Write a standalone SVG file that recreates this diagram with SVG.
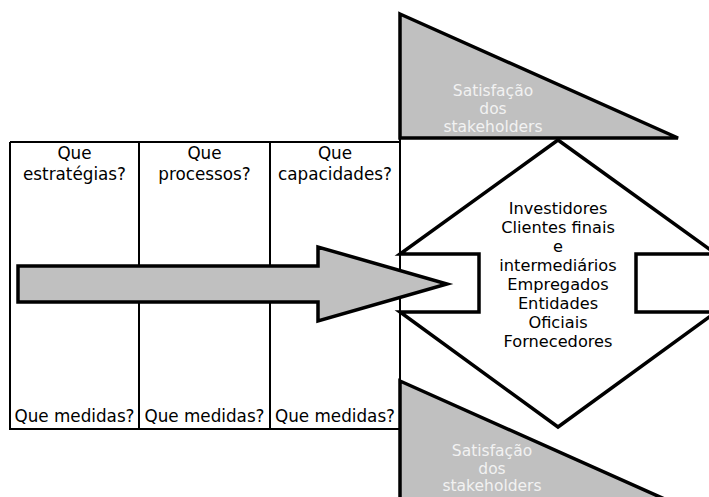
<svg xmlns="http://www.w3.org/2000/svg" width="709" height="497" viewBox="0 0 709 497">
<style>
.t{font-family:"DejaVu Sans","Liberation Sans",sans-serif;font-size:16.8px;fill:#000;text-anchor:middle}
.c{font-family:"DejaVu Sans","Liberation Sans",sans-serif;font-size:16.2px;fill:#000;text-anchor:middle}
.w{font-family:"DejaVu Sans","Liberation Sans",sans-serif;font-size:15.5px;fill:#f2f2f2;text-anchor:middle}
.grid{fill:none;stroke:#000;stroke-width:2}
.tri{fill:#c0c0c0;stroke:#000;stroke-width:3.5;stroke-linejoin:miter}
</style>
<rect width="709" height="497" fill="#fff"/>
<g id="table">
<path class="grid" d="M10,142 H400 M10,142 V429 H400 M139,142 V429 M270,142 V429 M400,138 V381"/>
</g>
<g id="col-estrategias">
<text class="t" x="74.5" y="159">Que</text>
<text class="t" x="74.5" y="180">estratégias?</text>
<text class="t" x="74.5" y="422">Que medidas?</text>
</g>
<g id="col-processos">
<text class="t" x="204.5" y="159">Que</text>
<text class="t" x="204.5" y="180">processos?</text>
<text class="t" x="204.5" y="422">Que medidas?</text>
</g>
<g id="col-capacidades">
<text class="t" x="335" y="159">Que</text>
<text class="t" x="335" y="180">capacidades?</text>
<text class="t" x="335" y="422">Que medidas?</text>
</g>
<g id="stakeholders">
<path d="M558,140 L716,254 H636 V312 H716 L558,427 L400,312 H479 V254 H400 Z" fill="#fff" stroke="#000" stroke-width="3.5" stroke-linejoin="miter"/>
<text class="c" x="558" y="214">Investidores</text>
<text class="c" x="558" y="233">Clientes finais</text>
<text class="c" x="558" y="252">e</text>
<text class="c" x="558" y="271">intermediários</text>
<text class="c" x="558" y="290">Empregados</text>
<text class="c" x="558" y="309">Entidades</text>
<text class="c" x="558" y="328">Oficiais</text>
<text class="c" x="558" y="347">Fornecedores</text>
</g>
<g id="satisfacao-top">
<path class="tri" d="M400,14 L678,138 H400 Z"/>
<text class="w" x="493" y="96">Satisfação</text>
<text class="w" x="493" y="114">dos</text>
<text class="w" x="493" y="132">stakeholders</text>
</g>
<g id="satisfacao-bottom">
<path class="tri" d="M400,381 L678,505 H400 Z"/>
<text class="w" x="492" y="456">Satisfação</text>
<text class="w" x="492" y="474">dos</text>
<text class="w" x="492" y="491">stakeholders</text>
</g>
<g id="connectors">
<path d="M18,266 H318 V247 L447,284 L318,321 V302 H18 Z" fill="#c0c0c0" stroke="#000" stroke-width="3.5" stroke-linejoin="miter"/>
</g>
</svg>
